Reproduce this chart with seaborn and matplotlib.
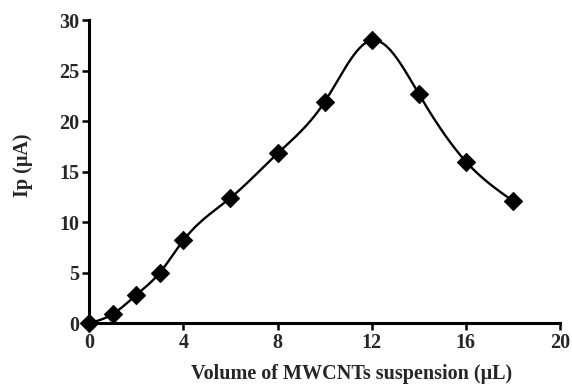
import numpy as np
import matplotlib
matplotlib.use("Agg")
import matplotlib.pyplot as plt
import seaborn as sns

# MWCNT suspension volume (uL) and peak current (uA)
volume = [0, 1, 2, 3, 4, 6, 8, 10, 12, 14, 16, 18]
current = [0.0, 0.9, 2.8, 5.0, 8.2, 12.4, 16.8, 21.9, 28.0, 22.7, 16.0, 12.1]

x_ticks = [0, 4, 8, 12, 16, 20]
y_ticks = [0, 5, 10, 15, 20, 25, 30]


def natural_cubic_spline(x, y, n=400):
    """Smooth curve through the measured points (natural cubic spline)."""
    x = np.asarray(x, float)
    y = np.asarray(y, float)
    k = len(x)
    h = np.diff(x)
    A = np.zeros((k, k))
    b = np.zeros(k)
    A[0, 0] = A[-1, -1] = 1.0
    for i in range(1, k - 1):
        A[i, i - 1] = h[i - 1]
        A[i, i] = 2 * (h[i - 1] + h[i])
        A[i, i + 1] = h[i]
        b[i] = 3 * ((y[i + 1] - y[i]) / h[i] - (y[i] - y[i - 1]) / h[i - 1])
    c = np.linalg.solve(A, b)
    xs = np.linspace(x[0], x[-1], n)
    idx = np.clip(np.searchsorted(x, xs) - 1, 0, k - 2)
    dx = xs - x[idx]
    hi = h[idx]
    bi = (y[idx + 1] - y[idx]) / hi - hi * (2 * c[idx] + c[idx + 1]) / 3
    di = (c[idx + 1] - c[idx]) / (3 * hi)
    ys = y[idx] + bi * dx + c[idx] * dx ** 2 + di * dx ** 3
    return xs, ys


sns.set_style("ticks")
plt.rcParams["font.family"] = ["Liberation Serif", "DejaVu Serif"]
plt.rcParams["font.weight"] = "bold"

fig = plt.figure(figsize=(5.72, 3.87), dpi=100)
ax = fig.add_axes([0.156, 0.165, 0.823, 0.783])

xs, ys = natural_cubic_spline(volume, current)
sns.lineplot(x=xs, y=ys, ax=ax, color="black", linewidth=1.7, clip_on=False)
sns.scatterplot(x=volume, y=current, ax=ax, marker="D", s=85, color="black",
                edgecolor="black", zorder=5, clip_on=False)

ax.set_xlim(0, 20)
ax.set_ylim(0, 30)
ax.set_xticks(x_ticks)
ax.set_yticks(y_ticks)
ax.tick_params(axis="both", direction="out", length=5, width=1.8,
               labelsize=14.5, pad=2, color="black")
for lab in ax.get_xticklabels() + ax.get_yticklabels():
    lab.set_fontweight("bold")

for side in ("top", "right"):
    ax.spines[side].set_visible(False)
for side in ("left", "bottom"):
    ax.spines[side].set_linewidth(2.2)
    ax.spines[side].set_color("black")

ax.set_xlabel("Volume of MWCNTs suspension (μL)", fontsize=14.5, fontweight="bold")
ax.set_ylabel("Ip (μA)", fontsize=14.5, fontweight="bold")
ax.xaxis.set_label_coords(0.557, -0.135)
ax.yaxis.set_label_coords(-0.12, 0.52)

fig.savefig("out.png", dpi=100, facecolor="white")
